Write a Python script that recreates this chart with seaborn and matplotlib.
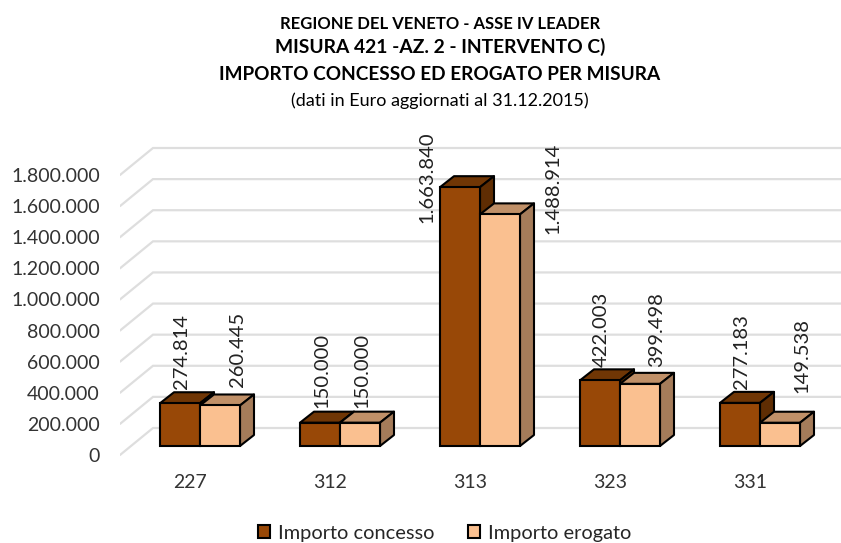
import numpy as np
import pandas as pd
import matplotlib
matplotlib.use("Agg")
import matplotlib.pyplot as plt
from matplotlib.patches import Polygon
import seaborn as sns

# Values
MISURE    = ["227", "312", "313", "323", "331"]
CONCESSO  = [274814, 150000, 1663840, 422003, 277183]
EROGATO   = [260445, 150000, 1488914, 399498, 149538]
SERIES    = ["Importo concesso", "Importo erogato"]
Y_TICKS   = [0, 200000, 400000, 600000, 800000, 1000000, 1200000, 1400000, 1600000, 1800000]
TITLE_LINES = [
    "REGIONE DEL VENETO - ASSE IV LEADER",
    "MISURA 421 -AZ. 2 - INTERVENTO C)",
    "IMPORTO CONCESSO ED EROGATO PER MISURA",
    "(dati in Euro aggiornati al 31.12.2015)",
]

# Colours: front, top, side
COL_CONCESSO = ["#984807", "#703605", "#5f2d03"]
COL_EROGATO  = ["#fac090", "#c09068", "#a57c5a"]

# Label nudges in pixels, from the bar centre and the bar top
NUDGE_CONCESSO = [(1, 14), (2, 15), (-33, -36), (1, 13), (1, 14)]
NUDGE_EROGATO  = [(17, 18), (2, 15), (53, -20), (17, 17), (22, 30)]

W, H = 841, 543
PX_PER_CAT = 140.0
PX_PER_UNIT = 280.0 / 1800000
X0_PX, Y0_PX = 200.0, 446.0      # category 0 centre, bar baseline


def thousands(v):
    return f"{v:,.0f}".replace(",", ".")


def px_x(n):
    return n / PX_PER_CAT


def px_y(n):
    return n / PX_PER_UNIT


sns.set_theme(style="white")
plt.rcParams["font.family"] = ["Lato", "DejaVu Sans"]

df = pd.DataFrame({
    "misura": MISURE * 2,
    "valore": CONCESSO + EROGATO,
    "serie": [SERIES[0]] * len(MISURE) + [SERIES[1]] * len(MISURE),
})

fig = plt.figure(figsize=(W / 100, H / 100), dpi=100)
left, right, top, bottom = 120, 841, 130, 460
ax = fig.add_axes([left / W, 1 - bottom / H, (right - left) / W, (bottom - top) / H])

sns.barplot(
    data=df, x="misura", y="valore", hue="serie", order=MISURE, hue_order=SERIES,
    palette=[COL_CONCESSO[0], COL_EROGATO[0]], saturation=1, width=80 / PX_PER_CAT,
    gap=0, edgecolor="black", linewidth=1.5, zorder=5, ax=ax,
)

ax.set_xlim(px_x(left - X0_PX), px_x(right - X0_PX))
ax.set_ylim(px_y(Y0_PX - bottom), px_y(Y0_PX - top))

# Back wall and floor gridlines
wall_x = px_x(153 - X0_PX)
front_x = px_x(left - X0_PX)
drop = px_y(9)
rise = px_y(18)
for v in Y_TICKS:
    ax.plot([front_x, wall_x, ax.get_xlim()[1]], [v - drop, v + rise, v + rise],
            color="#dedede", lw=1.6, zorder=1, solid_joinstyle="miter")

# Fake 3D depth on each bar
dx, dy = px_x(14), px_y(11)
for s, (cont, cols, nudges) in enumerate(zip(
        ax.containers, [COL_CONCESSO, COL_EROGATO], [NUDGE_CONCESSO, NUDGE_EROGATO])):
    for bar, (nx, ny) in zip(cont, nudges):
        x0, x1 = bar.get_x(), bar.get_x() + bar.get_width()
        h = bar.get_height()
        z = 3 + s * 0.1
        ax.add_patch(Polygon([(x0, h), (x1, h), (x1 + dx, h + dy), (x0 + dx, h + dy)],
                             fc=cols[1], ec="black", lw=1.5, zorder=z, joinstyle="round"))
        ax.add_patch(Polygon([(x1, 0), (x1 + dx, dy), (x1 + dx, h + dy), (x1, h)],
                             fc=cols[2], ec="black", lw=1.5, zorder=z, joinstyle="round"))
        ax.annotate(thousands(h), xy=((x0 + x1) / 2, h),
                    xytext=(nx * 0.72, ny * 0.72), textcoords="offset points",
                    rotation=90, ha="center", va="bottom", fontsize=14.5,
                    color="#222222", zorder=8)

ax.set_yticks(np.array(Y_TICKS) - drop, [thousands(v) for v in Y_TICKS])
ax.set_xticks(np.arange(len(MISURE)) - px_x(10), MISURE)
ax.tick_params(axis="y", length=0, pad=14.4, labelsize=14, labelcolor="#333333")
ax.tick_params(axis="x", length=0, pad=10, labelsize=14, labelcolor="#333333")
ax.set_xlabel("")
ax.set_ylabel("")
sns.despine(ax=ax, left=True, bottom=True)

sns.move_legend(
    ax, "center", bbox_to_anchor=(444.5 / W, 1 - 533 / H),
    bbox_transform=fig.transFigure, ncol=2, frameon=False, title=None,
    handlelength=0.6, handleheight=0.65, handletextpad=0.4,
    columnspacing=1.7, prop={"family": "Lato", "size": 14.4},
)

# Title block
title_y = [24, 47, 75, 101]
title_size = [12, 13.9, 13.65, 13]
title_weight = ["bold", "bold", "bold", "normal"]
for line, y, size, weight in zip(TITLE_LINES, title_y, title_size, title_weight):
    fig.text(440 / W, 1 - y / H, line, ha="center", va="center", family="Lato",
             fontsize=size, fontweight=weight, color="black")

fig.savefig("out.png", dpi=100)
plt.close(fig)
